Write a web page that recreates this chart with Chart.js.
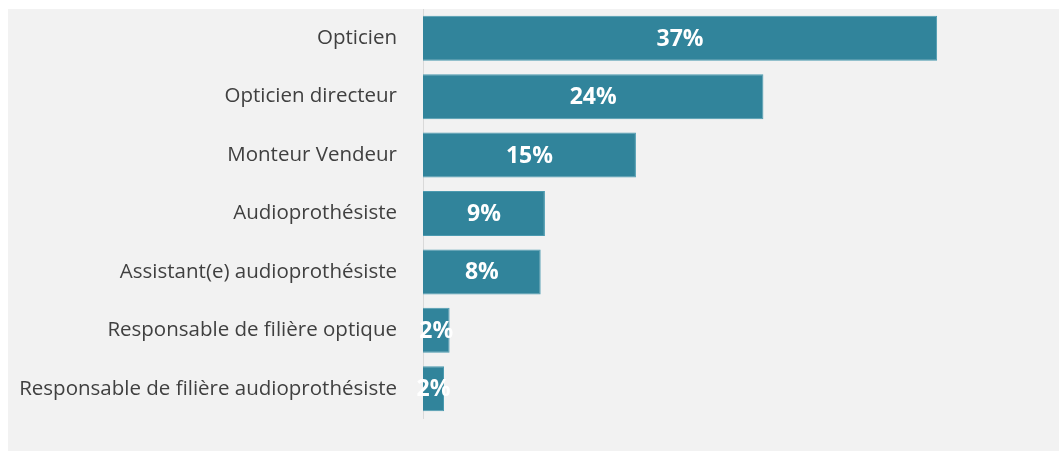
<!DOCTYPE html>
<html>
<head>
<meta charset="utf-8">
<script src="https://cdn.jsdelivr.net/npm/chart.js@4"></script>
<style>
  body { margin: 0; background: #ffffff; }
  #wrap { position: absolute; left: 8px; top: 9px; width: 1051px; height: 442px; background: #f2f2f2; }
</style>
</head>
<body>
<div id="wrap"><canvas id="chart"></canvas></div>
<script>
// données
const categories = [
  "Opticien",
  "Opticien directeur",
  "Monteur Vendeur",
  "Audioprothésiste",
  "Assistant(e) audioprothésiste",
  "Responsable de filière optique",
  "Responsable de filière audioprothésiste"
];
const values = [36.7, 24.3, 15.2, 8.7, 8.4, 1.9, 1.5];

// étiquettes de valeur au centre des barres
const barLabels = {
  id: "barLabels",
  afterDatasetsDraw(chart) {
    const ctx = chart.ctx;
    const meta = chart.getDatasetMeta(0);
    ctx.save();
    ctx.fillStyle = "#ffffff";
    ctx.font = "bold 23px 'Open Sans'";
    ctx.textAlign = "center";
    ctx.textBaseline = "middle";
    meta.data.forEach((bar, i) => {
      const cx = (bar.x + bar.base) / 2;
      ctx.fillText(Math.round(values[i]) + "%", cx, bar.y + 1);
    });
    ctx.restore();
  }
};

new Chart(document.getElementById("chart"), {
  type: "bar",
  data: {
    labels: categories,
    datasets: [{
      data: values,
      backgroundColor: "#31849b",
      borderColor: "#4b9ab0",
      borderWidth: 1,
      barPercentage: 0.77,
      categoryPercentage: 1
    }]
  },
  options: {
    indexAxis: "y",
    responsive: true,
    maintainAspectRatio: false,
    animation: false,
    layout: { padding: { top: 0, bottom: 33, right: 7, left: 0 } },
    plugins: {
      legend: { display: false },
      tooltip: { enabled: false }
    },
    scales: {
      x: {
        min: 0,
        max: 44.9,
        display: false
      },
      y: {
        afterFit(scale) {
          scale.width = 415;
          scale.paddingTop = 0;
          scale.paddingBottom = 0;
        },
        grid: { display: false, drawTicks: false },
        border: { display: true, color: "#d9d9d9", width: 1 },
        ticks: {
          color: "#404040",
          padding: 26,
          font: { family: "'Open Sans'", size: 20.5 }
        }
      }
    }
  },
  plugins: [barLabels]
});
</script>
</body>
</html>
